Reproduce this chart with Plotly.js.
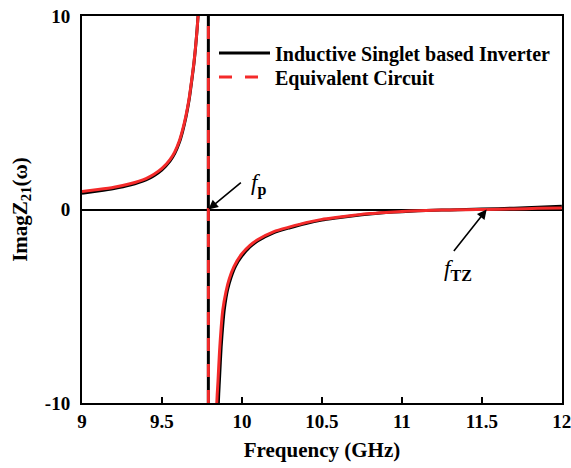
<!DOCTYPE html>
<html>
<head>
<meta charset="utf-8">
<script src="https://cdn.plot.ly/plotly-3.0.1.min.js"></script>
<style>
  html, body { margin: 0; padding: 0; background: #fff; }
  #chart { width: 571px; height: 468px; }
</style>
</head>
<body>
<div id="chart"></div>
<script>
// Im(Z21) of the inductive singlet inverter (simulated) and of its equivalent circuit
// Frequencies in GHz; the response has a pole at fp and a transmission zero at fTZ.

// Simulated response, branch below the pole
const simFreqLow = [9.00, 9.10, 9.20, 9.30, 9.40, 9.45, 9.50, 9.55, 9.58, 9.61, 9.63, 9.65, 9.67, 9.69, 9.70, 9.71, 9.72, 9.73];
const simImagLow = [0.84, 0.95, 1.08, 1.26, 1.53, 1.75, 2.05, 2.50, 2.90, 3.50, 4.07, 4.78, 5.68, 6.90, 7.56, 8.38, 9.35, 10.5];
// Simulated response, branch above the pole
const simFreqHigh = [9.850, 9.855, 9.86, 9.87, 9.88, 9.89, 9.91, 9.93, 9.96, 10.00, 10.05, 10.10, 10.20, 10.30, 10.40, 10.50, 10.60, 10.70, 10.80, 10.90, 11.00, 11.10, 11.20, 11.30, 11.40, 11.50, 11.70, 11.85, 12.00];
const simImagHigh = [-10.5, -9.5, -8.7, -7.1, -6.0, -5.15, -4.15, -3.55, -2.92, -2.40, -1.93, -1.62, -1.19, -0.94, -0.72, -0.55, -0.43, -0.32, -0.23, -0.16, -0.11, -0.07, -0.04, -0.02, 0.00, 0.02, 0.07, 0.12, 0.17];

// Equivalent circuit, branch below the pole
const eqFreqLow = [9.00, 9.10, 9.20, 9.30, 9.40, 9.45, 9.50, 9.55, 9.58, 9.61, 9.63, 9.65, 9.67, 9.69, 9.70, 9.71, 9.72, 9.73];
const eqImagLow = [0.93, 1.03, 1.15, 1.33, 1.60, 1.82, 2.12, 2.58, 2.98, 3.58, 4.15, 4.85, 5.75, 6.95, 7.60, 8.40, 9.35, 10.5];
// Equivalent circuit, branch above the pole
const eqFreqHigh = [9.840, 9.845, 9.85, 9.86, 9.87, 9.88, 9.90, 9.92, 9.95, 10.00, 10.05, 10.10, 10.20, 10.30, 10.40, 10.50, 10.60, 10.70, 10.80, 10.90, 11.00, 11.10, 11.20, 11.30, 11.40, 11.53, 11.70, 11.85, 12.00];
const eqImagHigh = [-10.5, -9.6, -8.9, -7.3, -6.1, -5.2, -4.25, -3.6, -2.95, -2.28, -1.85, -1.55, -1.14, -0.90, -0.68, -0.51, -0.40, -0.30, -0.21, -0.15, -0.10, -0.06, -0.04, -0.02, -0.01, 0.00, 0.03, 0.06, 0.08];

// Pole and transmission-zero frequencies (GHz)
const fPole = 9.79;
const fZero = 11.53;
const poleSpan = [-10, 10];

const xTicks = [9, 9.5, 10, 10.5, 11, 11.5, 12];
const xTickText = ['9', '9.5', '10', '10.5', '11', '11.5', '12'];
const yTicks = [-10, 0, 10];
const yTickText = ['-10', '0', '10'];

const names = ['Inductive Singlet based Inverter', 'Equivalent Circuit'];

const BLACK = '#000000';
const RED = '#f42a2a';
const SERIF = 'Liberation Serif, Times New Roman, serif';

const traces = [
  {x: simFreqLow, y: simImagLow, mode: 'lines', name: names[0], legendgroup: 'sim', legend: 'legend',
   line: {color: BLACK, width: 3, shape: 'spline', smoothing: 0.6}},
  {x: simFreqHigh, y: simImagHigh, mode: 'lines', name: names[0], legendgroup: 'sim', showlegend: false,
   line: {color: BLACK, width: 3, shape: 'spline', smoothing: 0.6}},
  {x: [fPole, fPole], y: poleSpan, mode: 'lines', legendgroup: 'sim', showlegend: false,
   line: {color: BLACK, width: 3}},
  {x: eqFreqLow, y: eqImagLow, mode: 'lines', legendgroup: 'eq', showlegend: false,
   line: {color: RED, width: 3, shape: 'spline', smoothing: 0.6}},
  {x: eqFreqHigh, y: eqImagHigh, mode: 'lines', legendgroup: 'eq', showlegend: false,
   line: {color: RED, width: 3, shape: 'spline', smoothing: 0.6}},
  {x: [fPole, fPole], y: poleSpan, mode: 'lines', name: names[1], legendgroup: 'eq', legend: 'legend2',
   line: {color: RED, width: 3, dash: '13px,13px'}}
];

const legendStyle = (yPos) => ({
  x: 0.275, y: yPos, xanchor: 'left', yanchor: 'top',
  bgcolor: 'rgba(0,0,0,0)', borderwidth: 0,
  font: {family: SERIF, size: 20, weight: 'bold', color: BLACK},
  itemwidth: 51, tracegroupgap: 0
});

const layout = {
  width: 571,
  height: 468,
  margin: {l: 82, r: 9, t: 16, b: 65},
  paper_bgcolor: '#ffffff',
  plot_bgcolor: '#ffffff',
  font: {family: SERIF, color: BLACK},
  showlegend: true,
  legend: legendStyle(0.955),
  legend2: legendStyle(0.893),
  xaxis: {
    range: [9, 12.001],
    tickmode: 'array', tickvals: xTicks, ticktext: xTickText,
    ticks: 'inside', ticklen: 6, tickwidth: 2, tickcolor: BLACK,
    ticklabeloverflow: 'allow',
    tickfont: {family: SERIF, size: 19, weight: 'bold', color: BLACK},
    showline: true, linecolor: BLACK, linewidth: 2, mirror: true,
    showgrid: false, zeroline: false,
    title: {text: 'Frequency (GHz)', font: {family: SERIF, size: 21, weight: 'bold', color: BLACK}, standoff: 12}
  },
  yaxis: {
    range: [-10, 10],
    tickmode: 'array', tickvals: yTicks, ticktext: yTickText,
    ticks: '', ticklabelstandoff: 6,
    tickfont: {family: SERIF, size: 19, weight: 'bold', color: BLACK},
    showline: true, linecolor: BLACK, linewidth: 2, mirror: true,
    showgrid: false,
    zeroline: true, zerolinecolor: BLACK, zerolinewidth: 2,
    title: {text: 'ImagZ<sub>21</sub>(ω)', font: {family: SERIF, size: 21, weight: 'bold', color: BLACK}, standoff: 12}
  },
  annotations: [
    {x: fPole, y: 0, xref: 'x', yref: 'y', text: '', showarrow: true,
     ax: 34, ay: -28, arrowhead: 2, arrowsize: 1.2, arrowwidth: 1.6, arrowcolor: BLACK},
    {x: fZero, y: 0, xref: 'x', yref: 'y', text: '', showarrow: true,
     ax: -34, ay: 43, arrowhead: 2, arrowsize: 1.2, arrowwidth: 1.6, arrowcolor: BLACK},
    {x: fPole, y: 0, xref: 'x', yref: 'y', showarrow: false, xshift: 50, yshift: 25,
     text: '<i>f</i><b><sub>p</sub></b>', font: {family: SERIF, size: 23, color: BLACK}},
    {x: fZero, y: 0, xref: 'x', yref: 'y', showarrow: false, xshift: -29, yshift: -60,
     text: '<i>f</i><b><sub>TZ</sub></b>', font: {family: SERIF, size: 23, color: BLACK}}
  ]
};

Plotly.newPlot('chart', traces, layout, {staticPlot: true, displayModeBar: false});
</script>
</body>
</html>
